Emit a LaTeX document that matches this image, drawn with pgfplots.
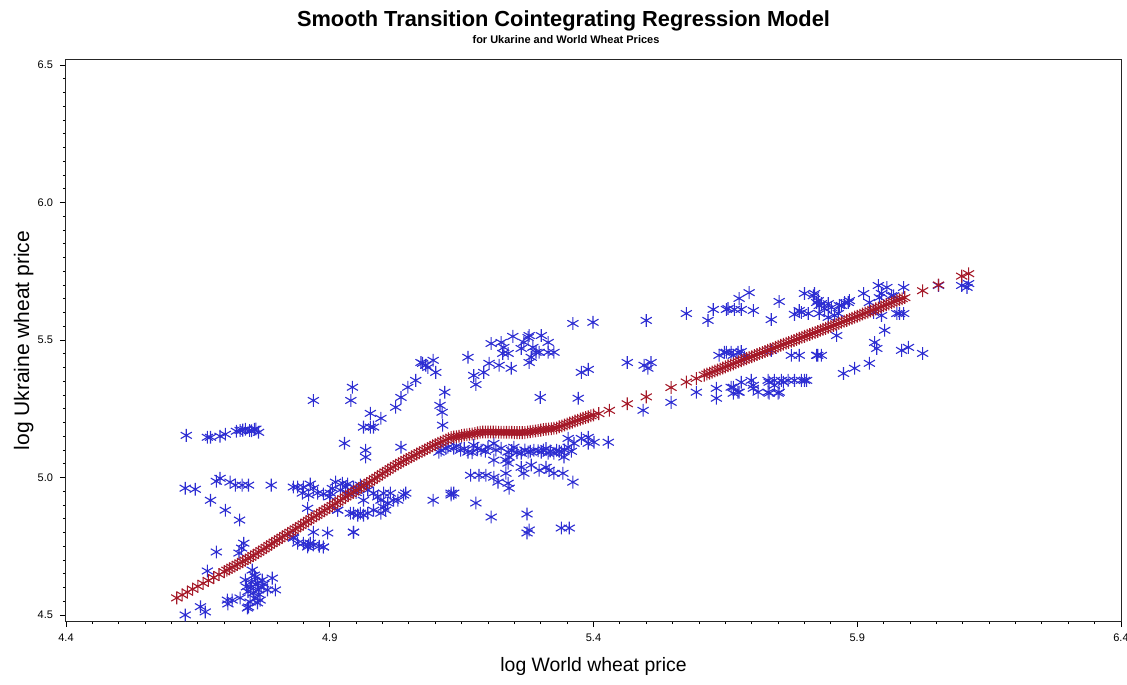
\documentclass[border=0pt]{standalone}
\usepackage{fontspec}
\setmainfont{Liberation Sans}
\usepackage{pgfplots}
\pgfplotsset{compat=1.18}
\pgfplotsset{/pgf/number format/assume math mode=true}
\definecolor{sasblue}{RGB}{45,45,210}
\definecolor{sasred}{RGB}{165,25,40}
\begin{document}
\begin{tikzpicture}
\begin{axis}[
  at={(0,0)}, anchor=south west,
  scale only axis, width=527.5pt, height=280.5pt,
  xmin=4.4, xmax=6.4, ymin=4.478, ymax=6.518,
  xtick={4.4,4.9,5.4,5.9,6.4}, ytick={4.5,5.0,5.5,6.0,6.5},
  minor x tick num=9, minor y tick num=9,
  tick align=outside, xtick pos=bottom, ytick pos=left,
  major tick length=3pt, minor tick length=1.6pt,
  axis line style={black!85, line width=0.5pt},
  every tick/.style={black, line width=0.4pt},
  tick label style={font=\fontsize{5.5}{6.6}\selectfont},
  xticklabel={\pgfmathprintnumber[fixed,fixed zerofill,precision=1]{\tick}},
  yticklabel={\pgfmathprintnumber[fixed,fixed zerofill,precision=1]{\tick}},
]
\addplot[only marks, mark=asterisk, mark size=3.2pt, color=sasblue, mark options={line width=0.55pt}] table {
x y
4.628 5.153
4.668 5.146
4.674 5.146
4.692 5.150
4.702 5.157
4.723 5.168
4.730 5.171
4.735 5.172
4.740 5.175
4.748 5.171
4.752 5.170
4.757 5.175
4.760 5.176
4.765 5.164
4.626 4.961
4.645 4.957
4.685 4.986
4.692 4.997
4.711 4.983
4.721 4.972
4.734 4.972
4.746 4.972
4.789 4.972
4.831 4.965
4.674 4.917
4.702 4.881
4.729 4.845
4.685 4.729
4.737 4.761
4.733 4.743
4.728 4.725
4.668 4.660
4.626 4.500
4.655 4.530
4.664 4.511
4.706 4.554
4.715 4.554
4.707 4.540
4.730 4.562
4.740 4.627
4.742 4.602
4.746 4.529
4.753 4.663
4.759 4.638
4.763 4.616
4.765 4.591
4.755 4.580
4.768 4.554
4.772 4.627
4.782 4.591
4.797 4.591
4.791 4.634
4.749 4.547
4.763 4.544
4.744 4.525
4.757 4.645
4.760 4.610
4.750 4.600
4.766 4.575
4.745 4.585
4.752 4.620
4.770 4.600
4.758 4.560
4.775 4.612
4.839 4.761
4.850 4.761
4.860 4.754
4.869 4.754
4.888 4.747
4.831 4.779
4.869 4.801
4.896 4.798
4.945 4.801
4.858 4.888
4.915 4.881
4.945 4.870
4.958 4.870
4.972 4.870
4.983 4.881
4.858 4.747
4.880 4.750
4.850 4.965
4.863 4.976
4.869 4.961
4.848 4.943
4.860 4.936
4.877 4.943
4.888 4.940
4.901 4.943
4.911 4.983
4.924 4.979
4.934 4.976
4.920 4.954
4.934 4.943
4.945 4.965
4.958 4.972
4.972 4.954
4.983 4.943
4.991 4.929
4.997 4.917
5.010 4.907
5.021 4.917
5.040 4.936
5.044 4.943
5.096 4.917
5.130 4.936
5.135 4.943
4.839 4.965
4.939 4.870
4.953 4.863
4.964 4.863
4.964 4.917
5.002 4.892
5.015 4.943
5.029 4.917
4.915 4.881
4.831 4.783
4.863 4.761
4.888 4.747
4.945 4.801
5.002 4.943
4.997 4.870
5.006 4.881
4.905 4.960
4.930 4.965
4.950 4.945
4.900 4.930
4.869 5.280
4.940 5.280
4.943 5.328
4.928 5.124
4.968 5.099
4.968 5.074
4.964 5.183
4.977 5.183
4.983 5.183
4.977 5.233
4.997 5.215
5.025 5.255
5.035 5.291
5.048 5.328
5.063 5.353
5.076 5.415
5.086 5.400
5.096 5.426
5.082 5.408
5.101 5.382
5.073 5.418
5.118 5.310
5.109 5.262
5.113 5.237
5.114 5.190
5.035 5.110
5.107 5.092
5.162 5.437
5.173 5.371
5.177 5.338
5.192 5.382
5.202 5.415
5.206 5.487
5.221 5.408
5.225 5.491
5.230 5.473
5.228 5.451
5.244 5.397
5.247 5.513
5.238 5.451
5.263 5.469
5.268 5.491
5.276 5.509
5.278 5.516
5.285 5.473
5.291 5.455
5.282 5.437
5.297 5.455
5.301 5.516
5.314 5.491
5.314 5.455
5.325 5.455
5.278 5.418
5.361 5.560
5.399 5.564
5.377 5.382
5.390 5.393
5.299 5.291
5.371 5.288
5.111 5.099
5.124 5.110
5.135 5.106
5.148 5.099
5.162 5.092
5.173 5.117
5.187 5.099
5.200 5.110
5.211 5.124
5.225 5.106
5.238 5.092
5.249 5.110
5.263 5.088
5.276 5.092
5.287 5.099
5.301 5.092
5.314 5.088
5.325 5.088
5.339 5.092
5.352 5.110
5.363 5.124
5.377 5.142
5.390 5.146
5.401 5.128
5.428 5.128
5.352 5.142
5.390 5.124
5.344 5.074
5.280 5.095
5.295 5.097
5.305 5.100
5.318 5.096
5.330 5.099
5.120 5.105
5.140 5.115
5.155 5.105
5.195 5.095
5.215 5.100
5.170 5.090
5.180 5.105
5.245 5.098
5.255 5.090
5.270 5.100
5.335 5.095
5.345 5.100
5.358 5.095
5.310 5.105
5.211 5.063
5.238 5.052
5.240 5.074
5.263 5.037
5.282 5.045
5.310 5.037
5.234 5.015
5.268 5.015
5.297 5.026
5.325 5.015
5.342 5.015
5.167 5.008
5.183 5.008
5.196 5.008
5.211 5.001
5.219 4.983
5.238 4.979
5.361 4.983
5.316 5.026
5.234 5.063
5.240 4.961
5.130 4.943
5.177 4.907
5.206 4.856
5.274 4.867
5.278 4.809
5.274 4.798
5.339 4.816
5.354 4.816
5.500 5.571
5.464 5.418
5.496 5.408
5.509 5.418
5.503 5.397
5.494 5.244
5.547 5.273
5.576 5.596
5.617 5.571
5.627 5.611
5.652 5.611
5.667 5.611
5.680 5.611
5.703 5.607
5.676 5.651
5.695 5.672
5.737 5.574
5.752 5.640
5.781 5.593
5.800 5.669
5.794 5.600
5.807 5.596
5.819 5.669
5.826 5.643
5.828 5.625
5.838 5.614
5.851 5.618
5.857 5.589
5.870 5.625
5.883 5.636
5.655 5.614
5.790 5.607
5.817 5.661
5.823 5.636
5.832 5.632
5.845 5.632
5.828 5.596
5.845 5.582
5.866 5.625
5.876 5.636
5.885 5.643
5.864 5.596
5.912 5.669
5.923 5.636
5.940 5.698
5.956 5.691
5.988 5.691
5.946 5.669
5.965 5.661
5.931 5.600
5.946 5.589
5.975 5.596
5.988 5.596
5.942 5.654
5.969 5.661
5.980 5.596
6.054 5.698
6.098 5.698
6.111 5.705
6.108 5.691
5.638 5.444
5.652 5.455
5.665 5.444
5.674 5.455
5.686 5.437
5.737 5.462
5.648 5.455
5.661 5.455
5.680 5.458
5.775 5.444
5.823 5.444
5.790 5.444
5.825 5.444
5.861 5.516
5.952 5.535
5.933 5.491
5.937 5.469
5.984 5.462
5.997 5.473
6.024 5.451
5.923 5.415
5.895 5.397
5.874 5.378
5.832 5.444
5.595 5.310
5.633 5.324
5.633 5.288
5.661 5.328
5.680 5.346
5.699 5.353
5.703 5.335
5.712 5.310
5.731 5.353
5.743 5.353
5.756 5.353
5.769 5.353
5.781 5.353
5.794 5.353
5.804 5.353
5.731 5.310
5.752 5.310
5.676 5.310
5.665 5.306
5.665 5.328
5.674 5.310
5.703 5.324
5.733 5.346
5.750 5.306
5.760 5.346
5.800 5.353
5.743 5.335
5.733 5.306
};
\addplot[only marks, mark=asterisk, mark size=3.2pt, color=sasred, mark options={line width=0.55pt}] table {
x y
4.610 4.562
4.620 4.573
4.630 4.583
4.640 4.594
4.650 4.604
4.660 4.615
4.670 4.625
4.680 4.636
4.690 4.647
4.700 4.657
4.705 4.663
4.710 4.668
4.715 4.673
4.720 4.678
4.725 4.684
4.730 4.689
4.735 4.694
4.740 4.699
4.745 4.705
4.750 4.710
4.755 4.716
4.760 4.722
4.765 4.728
4.770 4.734
4.775 4.740
4.780 4.746
4.785 4.753
4.790 4.759
4.795 4.765
4.800 4.771
4.805 4.777
4.810 4.783
4.815 4.789
4.820 4.795
4.825 4.801
4.830 4.807
4.835 4.813
4.840 4.819
4.845 4.825
4.850 4.831
4.855 4.838
4.860 4.844
4.865 4.850
4.870 4.856
4.875 4.862
4.880 4.868
4.885 4.874
4.890 4.880
4.895 4.886
4.900 4.892
4.905 4.898
4.910 4.904
4.915 4.910
4.920 4.916
4.925 4.923
4.930 4.929
4.935 4.935
4.940 4.941
4.945 4.947
4.950 4.953
4.955 4.959
4.960 4.965
4.965 4.971
4.970 4.977
4.975 4.983
4.980 4.989
4.985 4.995
4.990 5.001
4.995 5.008
5.000 5.014
5.005 5.020
5.010 5.026
5.015 5.032
5.020 5.038
5.025 5.044
5.030 5.050
5.035 5.055
5.040 5.060
5.045 5.065
5.050 5.070
5.055 5.075
5.060 5.080
5.065 5.085
5.070 5.090
5.075 5.095
5.080 5.100
5.085 5.105
5.090 5.110
5.095 5.115
5.100 5.119
5.105 5.124
5.110 5.128
5.115 5.132
5.120 5.136
5.125 5.141
5.130 5.145
5.135 5.147
5.140 5.148
5.145 5.150
5.150 5.152
5.155 5.154
5.160 5.155
5.165 5.157
5.170 5.158
5.175 5.160
5.180 5.162
5.185 5.164
5.190 5.165
5.195 5.165
5.200 5.165
5.205 5.165
5.210 5.165
5.215 5.165
5.220 5.164
5.225 5.164
5.230 5.164
5.235 5.164
5.240 5.164
5.245 5.164
5.250 5.163
5.255 5.163
5.260 5.163
5.265 5.163
5.270 5.163
5.275 5.165
5.280 5.166
5.285 5.168
5.290 5.169
5.295 5.171
5.300 5.172
5.305 5.174
5.310 5.175
5.315 5.176
5.320 5.177
5.325 5.179
5.330 5.180
5.335 5.184
5.340 5.187
5.345 5.191
5.350 5.194
5.355 5.198
5.360 5.201
5.365 5.205
5.370 5.208
5.375 5.212
5.380 5.215
5.385 5.218
5.390 5.221
5.395 5.224
5.400 5.227
5.410 5.232
5.430 5.244
5.464 5.268
5.500 5.293
5.547 5.327
5.576 5.347
5.595 5.360
5.610 5.372
5.615 5.376
5.620 5.379
5.625 5.383
5.630 5.387
5.635 5.391
5.640 5.394
5.645 5.398
5.650 5.402
5.655 5.406
5.660 5.409
5.665 5.413
5.670 5.417
5.675 5.421
5.680 5.424
5.685 5.428
5.690 5.432
5.695 5.436
5.700 5.439
5.705 5.443
5.710 5.447
5.715 5.451
5.720 5.454
5.725 5.458
5.730 5.462
5.735 5.466
5.740 5.469
5.745 5.473
5.750 5.477
5.755 5.481
5.760 5.484
5.765 5.488
5.770 5.491
5.775 5.495
5.780 5.498
5.785 5.502
5.790 5.506
5.795 5.510
5.800 5.513
5.805 5.517
5.810 5.520
5.815 5.524
5.820 5.527
5.825 5.531
5.830 5.535
5.835 5.539
5.840 5.542
5.845 5.546
5.850 5.549
5.855 5.553
5.860 5.556
5.865 5.560
5.870 5.564
5.875 5.568
5.880 5.571
5.885 5.575
5.890 5.579
5.895 5.583
5.900 5.586
5.905 5.590
5.910 5.594
5.915 5.598
5.920 5.601
5.925 5.605
5.930 5.609
5.935 5.613
5.940 5.616
5.945 5.620
5.950 5.624
5.955 5.628
5.960 5.631
5.965 5.635
5.970 5.639
5.975 5.643
5.980 5.646
5.985 5.650
5.990 5.654
6.024 5.679
6.054 5.700
6.098 5.732
6.111 5.741
};
\end{axis}
\node[font=\bfseries\fontsize{10.9}{13}\selectfont, anchor=base, inner sep=0pt] at (248.75pt,297pt) {Smooth Transition Cointegrating Regression Model};
\node[font=\bfseries\fontsize{5.5}{6.6}\selectfont, anchor=base, inner sep=0pt] at (250pt,288.5pt) {for Ukarine and World Wheat Prices};
\node[font=\fontsize{9.7}{11.5}\selectfont, anchor=base, inner sep=0pt] at (263.75pt,-25pt) {log World wheat price};
\node[font=\fontsize{10.5}{12.5}\selectfont, anchor=base, inner sep=0pt, rotate=90] at (-18.5pt,140.25pt) {log Ukraine wheat price};
\pgfresetboundingbox
\path (-33pt,-31.5pt) rectangle (530.5pt,310.5pt);
\end{tikzpicture}
\end{document}
